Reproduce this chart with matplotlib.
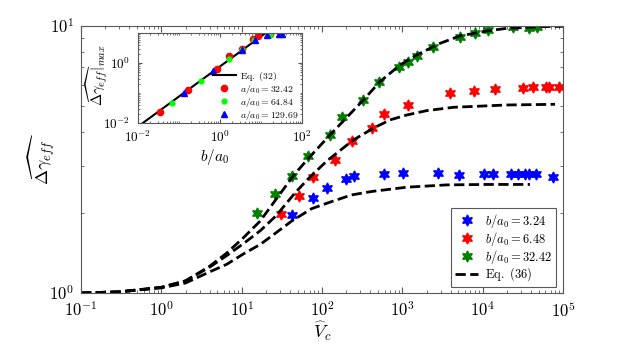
import math
import matplotlib
matplotlib.use('Agg')
import matplotlib.pyplot as plt
from matplotlib.ticker import LogLocator, FuncFormatter, NullFormatter

plt.rcParams['mathtext.fontset'] = 'cm'
plt.rcParams['font.family'] = 'serif'
plt.rcParams['font.serif'] = ['DejaVu Serif']

# ---- main panel: simulation points ----
vc_b324 = [42.7, 76.2, 117, 197, 247, 586, 1028, 2805, 5100, 10330, 13270,
           22750, 27550, 33500, 37760, 45900, 75800]
gam_b324 = [1.96, 2.26, 2.47, 2.67, 2.75, 2.79, 2.81, 2.81, 2.77, 2.78, 2.78,
            2.78, 2.78, 2.78, 2.78, 2.78, 2.71]

vc_b648 = [30.6, 51.3, 76.2, 144, 238, 416, 592, 1160, 3925, 7870, 14250,
           32100, 42000, 61500, 67600, 90000]
gam_b648 = [1.98, 2.31, 2.71, 3.15, 3.72, 4.16, 4.67, 5.04, 5.62, 5.70, 5.80,
            5.85, 5.89, 5.89, 5.89, 5.92]

vc_b3242 = [15.7, 26.0, 42.0, 66.4, 126, 179, 324, 508, 902, 1186, 1510,
            2388, 5224, 8035, 11750, 23660, 37400, 47100]
gam_b3242 = [2.0, 2.35, 2.74, 3.26, 3.91, 4.56, 5.28, 6.15, 7.04, 7.31, 7.72,
             8.32, 9.12, 9.44, 9.66, 9.94, 9.86, 9.94]

# ---- Eq. (36) curves, sampled from the figure ----
eq_x_b324 = [0.1, 0.3, 1, 2, 4, 6.5, 10.5, 17, 24, 42, 74.5, 132, 234, 416,
             1133, 3566, 11220, 38800]
eq_y_b324 = [1.0, 1.01, 1.045, 1.09, 1.20, 1.28, 1.40, 1.52, 1.64, 1.86, 2.07,
             2.20, 2.33, 2.40, 2.49, 2.54, 2.55, 2.55]

eq_x_b648 = [0.1, 0.3, 1, 2, 4, 6.5, 10.5, 17, 27, 44, 65, 114.5, 245, 435,
             703, 1133, 2010, 4313, 9270, 19950, 79600]
eq_y_b648 = [1.0, 1.01, 1.05, 1.11, 1.25, 1.38, 1.53, 1.71, 1.95, 2.33, 2.65,
             3.12, 3.74, 4.14, 4.45, 4.64, 4.82, 4.96, 5.01, 5.06, 5.09]

eq_x_b3242 = [0.1, 0.3, 1, 2, 4, 6.5, 10.5, 17, 27, 44, 65, 126, 327, 527,
              935, 1510, 2944, 5224, 11220, 19950, 51760, 100000]
eq_y_b3242 = [1.0, 1.01, 1.05, 1.11, 1.26, 1.41, 1.61, 1.86, 2.25, 2.75, 3.15,
              3.91, 5.28, 6.19, 7.14, 7.79, 8.61, 9.18, 9.58, 9.80, 9.94, 9.97]

main_xticks = [1e-1, 1e0, 1e1, 1e2, 1e3, 1e4, 1e5]
main_yticks = [1, 10]

# ---- inset data ----
ba_a3242 = [0.0344, 0.163, 0.832, 1.69, 3.38, 6.49, 8.59, 16.6]
gmax_a3242 = [0.0228, 0.123, 0.646, 1.67, 3.0, 6.3, 7.8, 9.3]
ba_a6484 = [0.0664, 0.344, 1.69, 3.38, 6.75, 16.6]
gmax_a6484 = [0.0465, 0.257, 1.36, 2.65, 5.7, 8.8]
ba_a12969 = [0.135, 0.687, 3.38, 7.14, 13.8, 27.5, 33.1]
gmax_a12969 = [0.1, 0.528, 2.77, 5.7, 8.8, 9.3, 9.3]
eq32_x = [0.01, 13.0]
eq32_y = [0.0076, 10.0]

ins_xticks = [1e-2, 1e0, 1e2]
ins_yticks = [1e-2, 1e0]

star = (6, 1, 0)
green = '#008000'
axcol = '0.35'

fig = plt.figure(figsize=(6.23, 3.49), dpi=100)
ax = fig.add_axes([0.130, 0.1605, 0.7737, 0.765])

ax.plot(vc_b324, gam_b324, ls='none', marker=star, ms=8, color='b',
        label=r'$b/a_0 = 3.24$')
ax.plot(vc_b648, gam_b648, ls='none', marker=star, ms=8, color='r',
        label=r'$b/a_0 = 6.48$')
ax.plot(vc_b3242, gam_b3242, ls='none', marker=star, ms=8, color=green,
        label=r'$b/a_0 = 32.42$')
ax.plot(eq_x_b324, eq_y_b324, 'k--', lw=2, label=r'$\mathrm{Eq.\ (36)}$')
ax.plot(eq_x_b648, eq_y_b648, 'k--', lw=2)
ax.plot(eq_x_b3242, eq_y_b3242, 'k--', lw=2)

ax.set_xscale('log')
ax.set_yscale('log')
ax.set_xlim(1e-1, 1e5)
ax.set_ylim(1, 10)

pow_fmt = FuncFormatter(lambda v, p: r'$10^{%d}$' % round(math.log10(v)))
ax.set_xticks(main_xticks)
ax.set_yticks(main_yticks)
ax.xaxis.set_major_formatter(pow_fmt)
ax.yaxis.set_major_formatter(pow_fmt)
ax.xaxis.set_minor_locator(LogLocator(base=10, subs=range(2, 10), numticks=20))
ax.yaxis.set_minor_locator(LogLocator(base=10, subs=range(2, 10), numticks=20))
ax.xaxis.set_minor_formatter(NullFormatter())
ax.yaxis.set_minor_formatter(NullFormatter())
ax.tick_params(which='both', direction='in', top=True, right=True,
               labelsize=12, color=axcol)
ax.tick_params(axis='x', pad=6)
ax.tick_params(axis='y', pad=5)
ax.tick_params(which='major', length=4)
ax.tick_params(which='minor', length=2)
for s in ax.spines.values():
    s.set_color(axcol)
    s.set_linewidth(0.8)

ax.set_xlabel(r'$\widehat{V}_c$', fontsize=13)
ax.set_ylabel(r'$\widehat{\Delta\gamma_{eff}}$', fontsize=13)
ax.xaxis.set_label_coords(0.5, -0.09)
ax.yaxis.set_label_coords(-0.06, 0.5)

leg = ax.legend(loc='lower right', bbox_to_anchor=(0.985, 0.022), fontsize=9,
                numpoints=1, handlelength=1.9, labelspacing=0.0,
                borderpad=0.3, handletextpad=0.5, fancybox=False,
                framealpha=1, borderaxespad=0)
leg.get_frame().set_edgecolor(axcol)
leg.get_frame().set_linewidth(0.8)

# ---- inset ----
ins = fig.add_axes([0.2215, 0.6476, 0.2632, 0.2579])
ins.plot(eq32_x, eq32_y, 'k-', lw=1.5, label=r'$\mathrm{Eq.\ (32)}$')
ins.plot(ba_a3242, gmax_a3242, 'o', ms=4.5, color='r', label=r'$a/a_0 = 32.42$')
ins.plot(ba_a6484, gmax_a6484, 'o', ms=3.5, color='#00ff00', label=r'$a/a_0 = 64.84$')
ins.plot(ba_a12969, gmax_a12969, '^', ms=4.5, color='b', label=r'$a/a_0 = 129.69$')
ins.set_xscale('log')
ins.set_yscale('log')
ins.set_xlim(1e-2, 1e2)
ins.set_ylim(1e-2, 1e1)
ins.set_xticks(ins_xticks)
ins.set_yticks(ins_yticks)
ins.xaxis.set_major_formatter(pow_fmt)
ins.yaxis.set_major_formatter(pow_fmt)
ins.xaxis.set_minor_locator(LogLocator(base=10, subs=range(1, 10), numticks=20))
ins.yaxis.set_minor_locator(LogLocator(base=10, subs=range(1, 10), numticks=20))
ins.xaxis.set_minor_formatter(NullFormatter())
ins.yaxis.set_minor_formatter(NullFormatter())
ins.tick_params(which='both', direction='in', top=True, right=True,
                labelsize=9.5, color=axcol)
ins.tick_params(axis='x', pad=5)
ins.tick_params(axis='y', pad=6)
ins.tick_params(which='major', length=3)
ins.tick_params(which='minor', length=1.5)
for s in ins.spines.values():
    s.set_color(axcol)
    s.set_linewidth(0.8)
ins.set_xlabel(r'$b/a_0$', fontsize=11)
ins.set_ylabel(r'$\widehat{\Delta\gamma_{eff}}|_{max}$', fontsize=10.5)
ins.xaxis.set_label_coords(0.47, -0.3)
ins.yaxis.set_label_coords(-0.18, 0.53)
ins.legend(loc='lower right', bbox_to_anchor=(0.985, 0.005), fontsize=7,
           frameon=False, numpoints=1, handlelength=2.4, labelspacing=0.0,
           borderpad=0.1, handletextpad=0.4, borderaxespad=0)

# centre the axis labels where they sit in the original figure (pixels)
fig.canvas.draw()
rend = fig.canvas.get_renderer()
H = fig.bbox.height


def put_ylabel(a, cx):
    lab = a.yaxis.label
    bb = lab.get_window_extent(rend)
    x, y = lab.get_position()
    lab.set_position((x + (cx - (bb.x0 + bb.x1) / 2) / a.bbox.width, y))


def put_xlabel(a, cy):
    lab = a.xaxis.label
    bb = lab.get_window_extent(rend)
    x, y = lab.get_position()
    lab.set_position((x, y + ((H - cy) - (bb.y0 + bb.y1) / 2) / a.bbox.height))


put_ylabel(ax, 42)
put_xlabel(ax, 331)
put_ylabel(ins, 97)
put_xlabel(ins, 157)

fig.savefig('out.png', dpi=100)
